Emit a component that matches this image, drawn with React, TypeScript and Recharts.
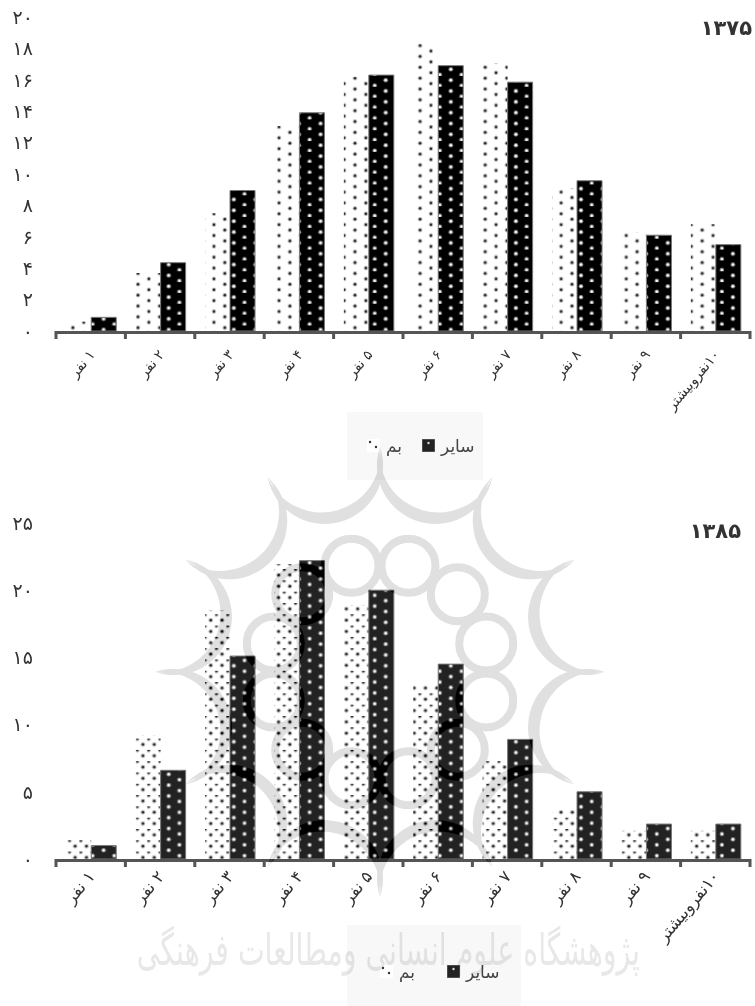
import React from 'react';
import { BarChart, Bar, XAxis, YAxis } from 'recharts';

const categories = ['۱ نفر', '۲ نفر', '۳ نفر', '۴ نفر', '۵ نفر', '۶ نفر', '۷ نفر', '۸ نفر', '۹ نفر', '۱۰نفروبیشتر'];

const bam75 = [0.6, 3.7, 7.5, 13.05, 16.2, 18.3, 17.05, 9.1, 6.3, 6.8];
const other75 = [0.87, 4.35, 8.95, 13.9, 16.3, 16.9, 15.85, 9.57, 6.1, 5.5];
const bam85 = [1.54, 9.2, 18.5, 21.95, 18.9, 12.95, 7.4, 3.65, 2.1, 2.1];
const other85 = [1.0, 6.6, 15.1, 22.2, 20.0, 14.5, 8.9, 5.0, 2.6, 2.6];

const ticks75 = [0, 2, 4, 6, 8, 10, 12, 14, 16, 18, 20];
const ticks85 = [0, 5, 10, 15, 20, 25];

const BAM = 'بم';
const OTHER = 'سایر';
const FONT = '"DejaVu Sans", sans-serif';
const STEP = 69.4;

const toTable = (a: number[], b: number[]) =>
  categories.map((name, i) => ({ name, bam: a[i], other: b[i] }));

const toPersian = (v: number) =>
  String(v).replace(/\d/g, (d) => '۰۱۲۳۴۵۶۷۸۹'[Number(d)]);

const Tick = ({ x, y, payload, index, dy, size }: any) => (
  <g>
    <rect x={x - 1 - STEP / 2} y={y} width={STEP} height={3} fill="#555" />
    <rect x={x - 1 - STEP / 2 - 1.5} y={y} width={3} height={8} fill="#555" />
    {index === categories.length - 1 && (
      <rect x={x - 1 + STEP / 2 - 1.5} y={y} width={3} height={8} fill="#555" />
    )}
    <text
      x={x + 4}
      y={y + dy}
      transform={`rotate(-50 ${x + 4} ${y + dy})`}
      textAnchor="start"
      direction="rtl"
      fontSize={size}
      fontFamily={FONT}
      fill="#333"
    >
      {payload.value}
    </text>
  </g>
);

const Dot = ({ cx, cy, halo, core }: any) => (
  <>
    <circle cx={cx} cy={cy} r={2.3} fill={halo} />
    <circle cx={cx} cy={cy} r={1.2} fill={core} />
  </>
);

const Patterns = ({ id, ink, y0, pitch, x0, rowH }: any) => (
  <defs>
    <pattern id={`${id}-dots`} patternUnits="userSpaceOnUse" width={pitch} height={rowH}>
      <Dot cx={x0} cy={y0} halo="#bbb" core="#222" />
      <Dot cx={x0 + pitch / 2} cy={y0 + rowH / 2} halo="#bbb" core="#222" />
    </pattern>
    <pattern id={`${id}-solid`} patternUnits="userSpaceOnUse" width={21.7} height={10.85}>
      <rect width={21.7} height={10.85} fill={ink} />
      <Dot cx={16.8} cy={y0 + 2} halo="#888" core="#fff" />
      <Dot cx={5.8} cy={y0 + 7.42} halo="#888" core="#fff" />
    </pattern>
  </defs>
);

const Chart = ({ id, top, height, marginTop, marginBottom, data, ticks, ink, y0, x0, pitch, rowH, dy, size }: any) => (
  <div style={{ position: 'absolute', left: 0, top }}>
    <BarChart
      width={755}
      height={height}
      data={data}
      margin={{ top: marginTop, right: 4, bottom: marginBottom, left: 0 }}
      barCategoryGap="13.3%"
      barGap={0}
    >
      <Patterns id={id} ink={ink} y0={y0} x0={x0} pitch={pitch} rowH={rowH} />
      <XAxis
        dataKey="name"
        interval={0}
        height={70}
        axisLine={false}
        tickLine={false}
        tickSize={0}
        tickMargin={0}
        tick={(p: any) => <Tick {...p} dy={dy} size={size} />}
      />
      <YAxis
        width={57}
        domain={[0, ticks[ticks.length - 1]]}
        ticks={ticks}
        interval={0}
        axisLine={false}
        tickLine={false}
        tickSize={0}
        tickMargin={24}
        tickFormatter={toPersian}
        tick={{ fontSize: 19, fontFamily: FONT, fill: '#333' }}
      />
      <Bar dataKey="bam" fill={`url(#${id}-dots)`} isAnimationActive={false} />
      <Bar dataKey="other" fill={`url(#${id}-solid)`} stroke="#777" strokeWidth={1} isAnimationActive={false} />
    </BarChart>
  </div>
);

const Title = ({ text, top, right }: { text: string; top: number; right: number }) => (
  <div style={{ position: 'absolute', top, right, fontFamily: FONT, fontSize: 21, fontWeight: 700, color: '#333', lineHeight: '24px' }}>
    {text}
  </div>
);

const Swatch = ({ x, y, kind }: any) => (
  <svg style={{ position: 'absolute', left: x, top: y }} width={13} height={13}>
    <rect width={13} height={13} fill={kind === 'solid' ? '#222' : '#fff'} stroke={kind === 'solid' ? '#777' : 'none'} />
    <circle cx={kind === 'solid' ? 6.5 : 3} cy={kind === 'solid' ? 4 : 3} r={1.2} fill={kind === 'solid' ? '#ddd' : '#333'} />
    {kind !== 'solid' && <circle cx={9} cy={8} r={1.2} fill="#333" />}
  </svg>
);

const LegendBox = ({ left, top, width, height, dotsX, bamX, otherX, nameX, y }: any) => (
  <div style={{ position: 'absolute', left, top, width, height, background: '#f8f8f8' }}>
    <Swatch x={dotsX} y={y} kind="dots" />
    <span style={{ position: 'absolute', left: bamX, top: y - 4, fontFamily: FONT, fontSize: 17, color: '#444', lineHeight: '22px' }}>{BAM}</span>
    <Swatch x={otherX} y={y} kind="solid" />
    <span style={{ position: 'absolute', left: nameX, top: y - 4, fontFamily: FONT, fontSize: 17, color: '#444', lineHeight: '22px' }}>{OTHER}</span>
  </div>
);

// faint institute emblem that sits over the second chart in the scan
const Watermark = ({ mode, color, withText }: { mode: any; color: string; withText?: boolean }) => {
  const cx = 380;
  const cy = 672;
  const spikes = Array.from({ length: 12 }, (_, i) => (i * Math.PI) / 6);
  const tip = (a: number) => [cx + 225 * Math.sin(a), cy - 225 * Math.cos(a)];
  return (
    <svg
      width={755}
      height={1006}
      style={{ position: 'absolute', left: 0, top: 0, mixBlendMode: mode, pointerEvents: 'none' }}
    >
      {spikes.map((a, i) => {
        const [x1, y1] = tip(a);
        const [x2, y2] = tip(a + Math.PI / 6);
        return <path key={i} fill={color} d={`M${x1} ${y1}A58.9 58.9 0 0 0 ${x2} ${y2}A58.35 58.35 0 1 1 ${x1} ${y1}Z`} />;
      })}
      <g fill="none" stroke={color} strokeWidth={8}>
        {spikes.map((a, i) => (
          <circle
            key={i}
            cx={cx + 110 * Math.sin(a + Math.PI / 12)}
            cy={cy - 110 * Math.cos(a + Math.PI / 12)}
            r={27}
          />
        ))}
      </g>
      {withText && (
        <text
          transform="translate(640 965) scale(0.645 1)"
          direction="rtl"
          textAnchor="start"
          fontFamily={FONT}
          fontSize={44}
          fill="#e8e8e8"
        >
          پژوهشگاه علوم انسانی ومطالعات فرهنگی
        </text>
      )}
    </svg>
  );
};

export default function App() {
  return (
    <div style={{ position: 'absolute', left: 0, top: 0, width: 755, height: 1006, background: '#fff', overflow: 'hidden' }}>
      <LegendBox left={347} top={412} width={136} height={68} dotsX={20} bamX={39} otherX={75} nameX={94} y={27} />
      <LegendBox left={347} top={925} width={174} height={81} dotsX={33} bamX={52} otherX={100} nameX={119} y={40} />
      <Chart id="c75" top={0} height={480} marginTop={17} marginBottom={79} data={toTable(bam75, other75)} ticks={ticks75} ink="#000" y0={2.2} x0={7.8} pitch={21.7} rowH={10.85} dy={24} size={14} />
      <Chart id="c85" top={490} height={516} marginTop={33} marginBottom={77} data={toTable(bam85, other85)} ticks={ticks85} ink="#222" y0={0.2} x0={1.7} pitch={11.3} rowH={11.3} dy={18} size={16.5} />
      <Title text="۱۳۷۵" top={16} right={3} />
      <Title text="۱۳۸۵" top={519} right={14} />
      <Watermark mode="color-burn" color="#d8d8d8" />
      <Watermark mode="multiply" color="#e0e0e0" withText />
    </div>
  );
}
